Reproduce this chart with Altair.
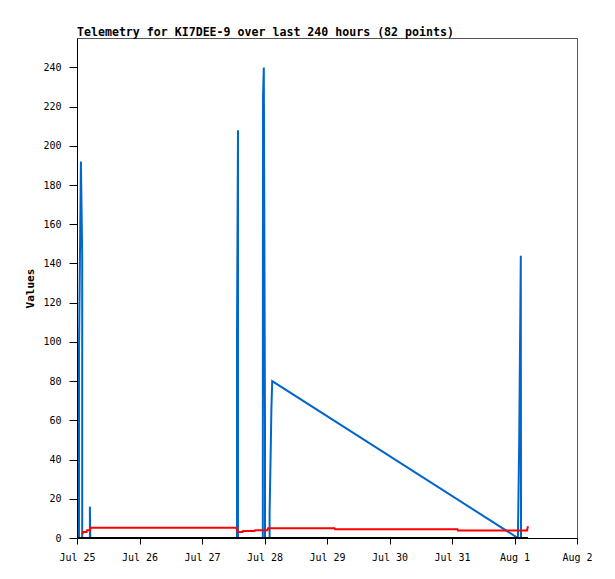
import altair as alt
import pandas as pd

# Hours since Jul 25 00:00 and values (points in drawing order)
blue_hours = [0.58, 0.77, 0.77, 1.50, 2.00, 2.00, 4.95, 4.95, 5.10,
              61.44, 61.44, 61.82, 61.82,
              71.35, 71.42, 71.73, 72.19, 72.19,
              73.96, 73.96, 74.34, 74.65, 74.96,
              169.3, 169.8, 170.42, 170.50, 173.18]
blue_values = [0, 0, 96, 192, 144, 0, 0, 16, 0,
               0, 104, 208, 0,
               0, 224, 240, 56, 0,
               0, 13, 41, 66, 80,
               0, 48, 144, 0, 0]

red_hours = [2.04, 2.30, 3.65, 3.84, 4.99, 5.18, 61.25, 61.63, 63.55, 63.74, 68.16, 68.35,
             73.15, 73.34, 98.88, 99.07, 146.11, 146.30, 172.80, 173.18]
red_values = [2.0, 3.0, 3.0, 4.0, 4.0, 5.2, 5.2, 3.0, 3.0, 3.6, 3.6, 4.0,
              4.0, 5.0, 5.0, 4.5, 4.5, 3.8, 3.8, 6.0]

black_hours = [0.3, 173.18]
black_values = [0, 0]

x_tick_hours = [0, 24, 48, 72, 96, 120, 144, 168, 192]
x_tick_labels = ["Jul 25", "Jul 26", "Jul 27", "Jul 28", "Jul 29", "Jul 30", "Jul 31", "Aug 1", "Aug 2"]
y_ticks = [0, 20, 40, 60, 80, 100, 120, 140, 160, 180, 200, 220, 240]

title_text = "Telemetry for KI7DEE-9 over last 240 hours (82 points)"

blue_df = pd.DataFrame({"h": blue_hours, "v": blue_values, "i": list(range(len(blue_hours)))})
red_df = pd.DataFrame({"h": red_hours, "v": red_values, "i": list(range(len(red_hours)))})
black_df = pd.DataFrame({"h": black_hours, "v": black_values, "i": list(range(len(black_hours)))})

label_expr = "[" + ",".join("'%s'" % s for s in x_tick_labels) + "][round(datum.value/24)]"

MONO = "DejaVu Sans Mono"

x_enc = alt.X("h:Q", scale=alt.Scale(domain=[0, 192], nice=False, zero=False),
              axis=alt.Axis(values=x_tick_hours, labelExpr=label_expr, title=None, grid=False,
                            tickSize=6, labelPadding=8, labelFlush=False, labelOverlap=False))
y_enc = alt.Y("v:Q", scale=alt.Scale(domain=[0, 255], nice=False),
              axis=alt.Axis(values=y_ticks, title="Values", tickSize=8, labelPadding=8, grid=False,
                            titlePadding=7, labelFlush=False, labelOverlap=False))

blue = alt.Chart(blue_df).mark_line(color="#0066cc", strokeWidth=2, clip=True).encode(
    x=x_enc, y=y_enc, order="i:Q")
red = alt.Chart(red_df).mark_line(color="#ff0000", strokeWidth=2, clip=True).encode(
    x="h:Q", y="v:Q", order="i:Q")
black = alt.Chart(black_df).mark_line(color="#000000", strokeWidth=2, clip=True).encode(
    x="h:Q", y="v:Q", order="i:Q")

chart = alt.layer(blue, red, black).properties(
    width=500, height=500,
    background="#ffffff",
    title=alt.TitleParams(title_text, anchor="start", frame="group", font=MONO,
                          fontSize=11.6, fontWeight="bold", color="#000000", offset=0, dy=1),
    autosize=alt.AutoSizeParams(type="none"),
    padding={"left": 69, "top": 30, "right": 30, "bottom": 33},
).configure_view(
    stroke="#555555", strokeWidth=1
).configure_axis(
    grid=False, domainColor="#000000", tickColor="#000000", labelColor="#000000",
    labelFont=MONO, labelFontSize=10, titleFont=MONO, titleFontSize=11,
    titleFontWeight="bold", titleColor="#000000", domainWidth=1, tickWidth=1
)

chart.save("out.html", embed_options={"renderer": "svg", "actions": False})
